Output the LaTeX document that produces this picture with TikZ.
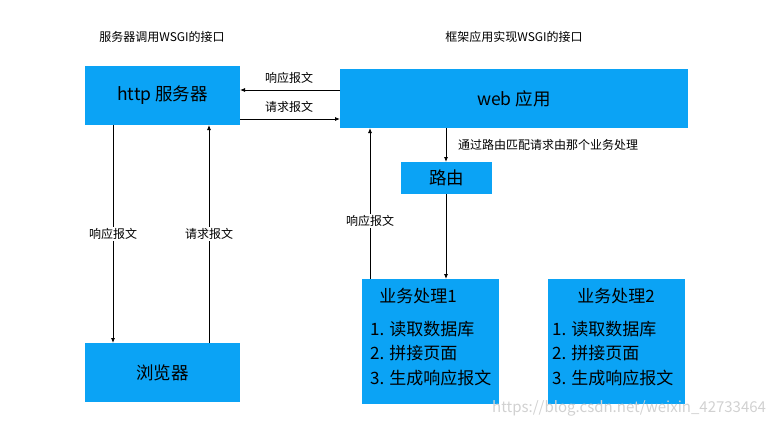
\documentclass[tikz,border=0pt]{standalone}
\usepackage{fontspec}
\setmainfont{Noto Sans CJK SC}
\usetikzlibrary{arrows.meta}
\definecolor{boxblue}{HTML}{0BA3F5}
\begin{document}
\begin{tikzpicture}[x=1pt,y=-1pt,
  bluebox/.style={fill=boxblue,draw=none,inner sep=0pt,font=\fontsize{17.5}{20}\selectfont},
  boxtxt/.style={font=\fontsize{17}{20}\selectfont,inner sep=0pt},
  lbl/.style={font=\fontsize{12}{14}\selectfont,inner sep=1pt},
  arr/.style={line width=0.8pt,-{Latex[length=5pt,width=4pt]}}]
\useasboundingbox (0,0) rectangle (774,426);
% boxes
\node[bluebox,minimum width=155pt,minimum height=59pt] (http) at (162.5,95.5) {http 服务器};
\node[bluebox,minimum width=348pt,minimum height=59pt] (web) at (514,98.5) {web 应用};
\node[bluebox,minimum width=91pt,minimum height=32pt] (route) at (446.5,178) {路由};
\node[bluebox,minimum width=155pt,minimum height=59pt] (browser) at (162.5,372.5) {浏览器};
\node[bluebox,minimum width=137pt,minimum height=125pt] (biz1) at (430.5,341.5) {};
\node[bluebox,minimum width=137pt,minimum height=125pt] (biz2) at (616.5,341.5) {};
% box texts
\node[boxtxt] (b1t) at (418,296) {业务处理1};
\node[boxtxt,anchor=west] (b1a) at (370,329) {1. 读取数据库};
\node[boxtxt,anchor=west] (b1b) at (370,353) {2. 拼接页面};
\node[boxtxt,anchor=west] (b1c) at (370,378) {3. 生成响应报文};
\node[boxtxt] (b2t) at (616,296) {业务处理2};
\node[boxtxt,anchor=west] (b2a) at (552,329) {1. 读取数据库};
\node[boxtxt,anchor=west] (b2b) at (552,353) {2. 拼接页面};
\node[boxtxt,anchor=west] (b2c) at (552,378) {3. 生成响应报文};
% top labels
\node[lbl] (t1) at (162,37) {服务器调用WSGI的接口};
\node[lbl] (t2) at (514,37) {框架应用实现WSGI的接口};
% coordinates for connectors
\coordinate (w1) at (340,90);
\coordinate (h1) at (240,90);
\coordinate (h2) at (240,119);
\coordinate (w2) at (340,119);
\coordinate (hd) at (113,125);
\coordinate (bd) at (113,343);
\coordinate (bu) at (209,343);
\coordinate (hu) at (209,125);
\coordinate (wr) at (446,128);
\coordinate (rt) at (446,162);
\coordinate (rb) at (446,194);
\coordinate (bt) at (446,279);
\coordinate (b1u) at (370,279);
\coordinate (wu) at (370,128);
% connectors
\draw[arr] (w1) -- (h1);
\draw[arr] (h2) -- (w2);
\draw[arr] (hd) -- (bd);
\draw[arr] (bu) -- (hu);
\draw[arr] (wr) -- (rt);
\draw[arr] (rb) -- (bt);
\draw[arr] (b1u) -- (wu);
% connector labels
\node[lbl] (l1) at (289,78) {响应报文};
\node[lbl] (l2) at (289,107) {请求报文};
\node[lbl,fill=white] (l3) at (113,234) {响应报文};
\node[lbl,fill=white] (l4) at (209,234) {请求报文};
\node[lbl,fill=white] (l5) at (370,221) {响应报文};
\node[lbl,anchor=west] (l6) at (457,145) {通过路由匹配请求由那个业务处理};
% watermark
\node[font=\fontsize{15}{17}\selectfont,text=black!18,inner sep=0pt,anchor=west] (wm) at (492,408) {https://blog.csdn.net/weixin\_42733464};
\end{tikzpicture}
\end{document}
